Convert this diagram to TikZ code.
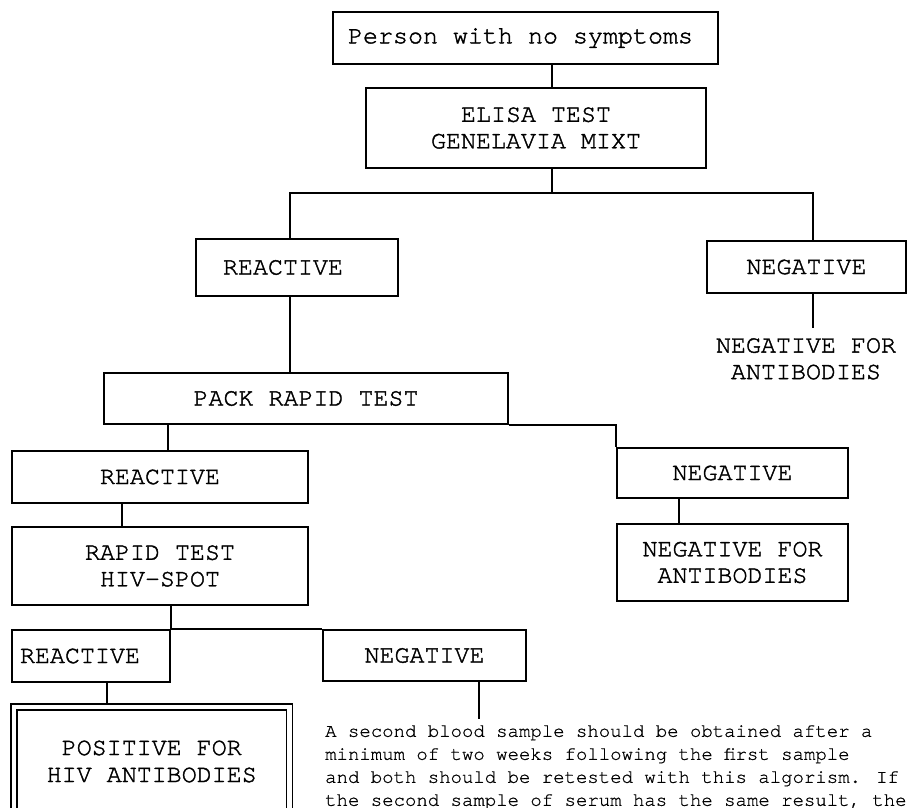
\documentclass[tikz,border=0pt]{standalone}
\usepackage{fontspec}
\setmainfont{texgyrecursor}[Extension=.otf,UprightFont=*-regular,BoldFont=*-bold]
\newfontfamily\boxfnt{texgyrecursor}[Extension=.otf,UprightFont=*-regular,FakeBold=1.6]
\newfontfamily\parafnt{texgyrecursor}[Extension=.otf,UprightFont=*-regular,FakeBold=0.8]
\usetikzlibrary{calc}
\begin{document}
\begin{tikzpicture}[x=1pt,y=-1pt,
  box/.style={draw, line width=1.6pt, inner sep=0pt, align=center,
    font=\boxfnt\fontsize{25}{26.5}\selectfont},
  plain/.style={inner sep=0pt, align=center, font=\boxfnt\fontsize{25}{26.5}\selectfont},
  ln/.style={line width=1.6pt}]
\useasboundingbox (0,0) rectangle (913,808);
% boxes
\node[box, minimum width=385pt, minimum height=52pt] (person) at (525.5,38) {Person with no symptoms\hspace{10pt}};
\node[box, minimum width=340pt, minimum height=80pt] (elisa) at (536,128) {ELISA TEST\hspace{16pt}\\GENELAVIA MIXT\hspace{16pt}};
\node[box, minimum width=202pt, minimum height=57pt] (react1) at (297,267.5) {REACTIVE\hspace{28pt}};
\node[box, minimum width=199pt, minimum height=52pt] (neg1) at (806.5,267) {NEGATIVE};
\node[plain, anchor=north] (negfor1) at (806,338) {NEGATIVE FOR\\ANTIBODIES};
\node[box, minimum width=404pt, minimum height=51pt] (pack) at (306,398.5) {PACK RAPID TEST};
\node[box, minimum width=231pt, minimum height=50pt] (neg2) at (732.5,473) {NEGATIVE};
\node[box, minimum width=231pt, minimum height=77pt] (negfor2) at (732.5,562.5) {NEGATIVE FOR\\ANTIBODIES};
\node[box, minimum width=296pt, minimum height=52pt] (react2) at (160,477) {REACTIVE};
\node[box, minimum width=296pt, minimum height=78pt] (rapid) at (160,566) {RAPID TEST\\HIV-SPOT};
\node[box, minimum width=158pt, minimum height=52pt] (react3) at (91,656) {REACTIVE\hspace{22pt}};
\node[box, minimum width=203pt, minimum height=51pt] (neg3) at (424.5,655.5) {NEGATIVE};
\node[inner sep=0pt, anchor=north west, align=left, font=\parafnt\fontsize{19}{23}\selectfont] (para) at (325,725)
 {A second blood sample should be obtained after a\\
  minimum of two weeks following the first sample\\
  and both should be retested with this algorism. If\\
  the second sample of serum has the same result, the};
% connector helper coordinates
\coordinate (x552) at (552,0);
\coordinate (j1) at (552,193);
\coordinate (a1) at (290,193);
\coordinate (b1) at (813,193);
\coordinate (e1) at (813,328);
\coordinate (x679) at (679,0);
\coordinate (x168) at (168,0);
\coordinate (x122) at (122,0);
\coordinate (x107) at (107,0);
\coordinate (e3) at (479,719);
% connectors
\draw[ln] (person.south -| x552) -- (elisa.north -| x552);
\draw[ln] (elisa.south -| j1) -- (j1);
\draw[ln] (react1.north -| a1) -- (a1) -- (b1) -- (neg1.north -| b1);
\draw[ln] (neg1.south -| b1) -- (e1);
\draw[ln] (react1.south -| a1) -- (pack.north -| a1);
\draw[ln] (pack.south east) -| (neg2.north west);
\draw[ln] (neg2.south -| x679) -- (negfor2.north -| x679);
\draw[ln] (pack.south -| x168) -- (react2.north -| x168);
\draw[ln] (react2.south -| x122) -- (rapid.north -| x122);
\draw[ln] (rapid.south -| react3.north east) -- (react3.north east) -- (neg3.north west);
\draw[ln] (neg3.south -| e3) -- (e3);
\draw[ln, shorten >=3pt] (react3.south -| x107) -- (x107 |- 0,707);
\node[draw, double, double distance=4.5pt, line width=1.4pt, inner sep=0pt, align=center,
  minimum width=275.5pt, minimum height=109pt, font=\boxfnt\fontsize{25}{27}\selectfont] (pos) at (151.75,761.5)
  {POSITIVE FOR\\HIV ANTIBODIES};
\end{tikzpicture}
\end{document}
